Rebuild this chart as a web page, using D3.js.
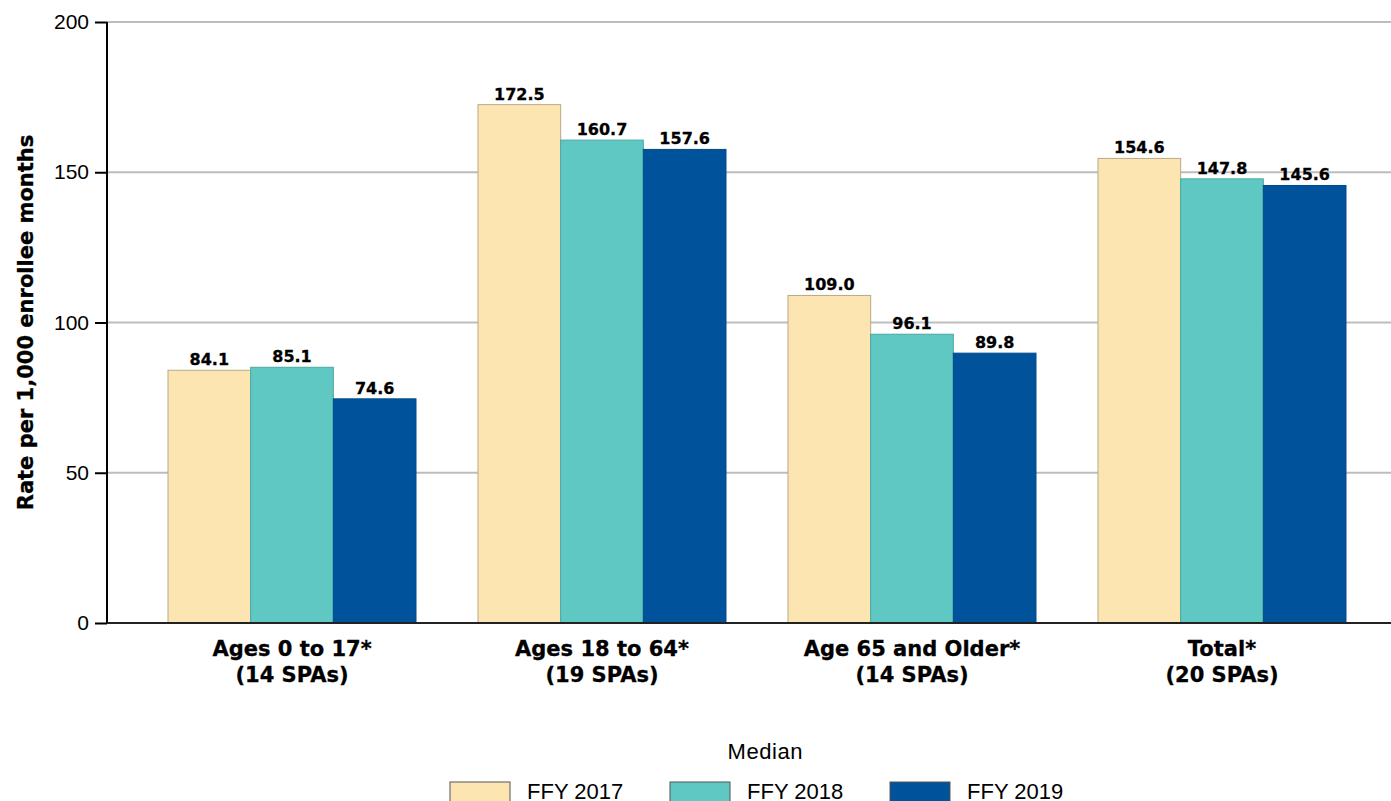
<!DOCTYPE html>
<html lang="en">
<head>
<meta charset="UTF-8"/>
<title>Median rate per 1,000 enrollee months</title>
<script src="https://d3js.org/d3.v7.min.js"></script>
<style>
  body { margin: 0; background: #fff; }
  text { font-family: "Liberation Sans", Arial, sans-serif; }
  .heavy { font-family: "DejaVu Sans", sans-serif; font-weight: bold; }
</style>
</head>
<body>
<div id="chart"></div>
<script>

// Data
var categories = ["Ages 0 to 17*", "Ages 18 to 64*", "Age 65 and Older*", "Total*"];
var subLabels = ["(14 SPAs)", "(19 SPAs)", "(14 SPAs)", "(20 SPAs)"];
var seriesNames = ["FFY 2017", "FFY 2018", "FFY 2019"];
var ffy2017 = [84.1, 172.5, 109.0, 154.6];
var ffy2018 = [85.1, 160.7, 96.1, 147.8];
var ffy2019 = [74.6, 157.6, 89.8, 145.6];
var yTicks = [0, 50, 100, 150, 200];

var colors = ["#fce5b0", "#5fc8c3", "#00539b"];
var strokes = ["#b8a98a", "#4aa8a4", "#004a8a"];

// Layout (avoid window.top clash)
var w = 1391, h = 801;
var plotLeft = 107, plotTop = 22, plotBottom = 623;

var svg = d3.select("#chart").append("svg")
    .attr("width", w)
    .attr("height", h);

var yScale = d3.scaleLinear().domain([0, 200]).range([plotBottom, plotTop]);

var x0 = d3.scaleBand()
    .domain(d3.range(categories.length))
    .range([137, 1377])
    .paddingInner(0.2)
    .paddingOuter(0.1);

var x1 = d3.scaleBand()
    .domain(d3.range(seriesNames.length))
    .range([0, x0.bandwidth()]);

// gridlines
svg.selectAll("line.grid")
    .data(yTicks.filter(function(d){ return d > 0; }))
    .enter().append("line")
    .attr("class", "grid")
    .attr("x1", plotLeft).attr("x2", w)
    .attr("y1", function(d){ return yScale(d); })
    .attr("y2", function(d){ return yScale(d); })
    .attr("stroke", "#bdbdbd")
    .attr("stroke-width", 2);

var rows = categories.map(function(c, i){
    return [ffy2017[i], ffy2018[i], ffy2019[i]];
});

var groups = svg.selectAll("g.group")
    .data(rows)
    .enter().append("g")
    .attr("class", "group")
    .attr("transform", function(d, i){ return "translate(" + x0(i) + ",0)"; });

groups.selectAll("rect")
    .data(function(d){ return d; })
    .enter().append("rect")
    .attr("x", function(d, j){ return x1(j); })
    .attr("y", function(d){ return yScale(d); })
    .attr("width", x1.bandwidth())
    .attr("height", function(d){ return plotBottom - yScale(d); })
    .attr("fill", function(d, j){ return colors[j]; })
    .attr("stroke", function(d, j){ return strokes[j]; })
    .attr("stroke-width", 1);

groups.selectAll("text.val")
    .data(function(d){ return d; })
    .enter().append("text")
    .attr("class", "val heavy")
    .attr("x", function(d, j){ return x1(j) + x1.bandwidth() / 2; })
    .attr("y", function(d){ return yScale(d) - 5; })
    .attr("text-anchor", "middle")
    .attr("font-size", 16)
    .attr("stroke", "#000").attr("stroke-width", 0.3)
    .text(function(d){ return d.toFixed(1); });

// y axis
var yAxis = d3.axisLeft(yScale)
    .tickValues(yTicks)
    .tickSize(12)
    .tickPadding(6);

var yg = svg.append("g")
    .attr("transform", "translate(" + plotLeft + ",0)")
    .call(yAxis);
yg.select(".domain").attr("stroke", "#000").attr("stroke-width", 2)
    .attr("d", "M0," + plotTop + "V" + plotBottom);
yg.selectAll(".tick line").attr("stroke", "#000").attr("stroke-width", 2);
yg.selectAll(".tick text").attr("font-size", 21).attr("fill", "#000")
    .attr("font-family", "Liberation Sans, Arial, sans-serif");

// baseline
svg.append("line")
    .attr("x1", plotLeft).attr("x2", w)
    .attr("y1", plotBottom).attr("y2", plotBottom)
    .attr("stroke", "#222").attr("stroke-width", 2);

// category labels
var cl = svg.selectAll("text.cat")
    .data(categories)
    .enter().append("text")
    .attr("class", "cat heavy")
    .attr("x", function(d, i){ return x0(i) + x0.bandwidth() / 2; })
    .attr("y", 656)
    .attr("text-anchor", "middle")
    .attr("font-size", 21)
    .attr("stroke", "#000").attr("stroke-width", 0.3);
cl.append("tspan").text(function(d){ return d; });
cl.append("tspan")
    .attr("x", function(d, i){ return x0(i) + x0.bandwidth() / 2; })
    .attr("dy", 26)
    .text(function(d, i){ return subLabels[i]; });

// y title
svg.append("text")
    .attr("class", "heavy")
    .attr("transform", "translate(33," + ((plotTop + plotBottom) / 2) + ") rotate(-90)")
    .attr("text-anchor", "middle")
    .attr("font-size", 21)
    .attr("stroke", "#000").attr("stroke-width", 0.3)
    .text("Rate per 1,000 enrollee months");

// legend
svg.append("text")
    .attr("x", 765).attr("y", 759)
    .attr("text-anchor", "middle")
    .attr("font-size", 22)
    .attr("textLength", 75)
    .text("Median");

var legX = [450, 670, 890];
var leg = svg.selectAll("g.leg")
    .data(seriesNames)
    .enter().append("g")
    .attr("class", "leg")
    .attr("transform", function(d, i){ return "translate(" + legX[i] + ",782)"; });
leg.append("rect")
    .attr("width", 60).attr("height", 22)
    .attr("fill", function(d, i){ return colors[i]; })
    .attr("stroke", "#555").attr("stroke-width", 1);
leg.append("text")
    .attr("x", 77).attr("y", 17)
    .attr("font-size", 22)
    .text(function(d){ return d; });

</script>
</body>
</html>
